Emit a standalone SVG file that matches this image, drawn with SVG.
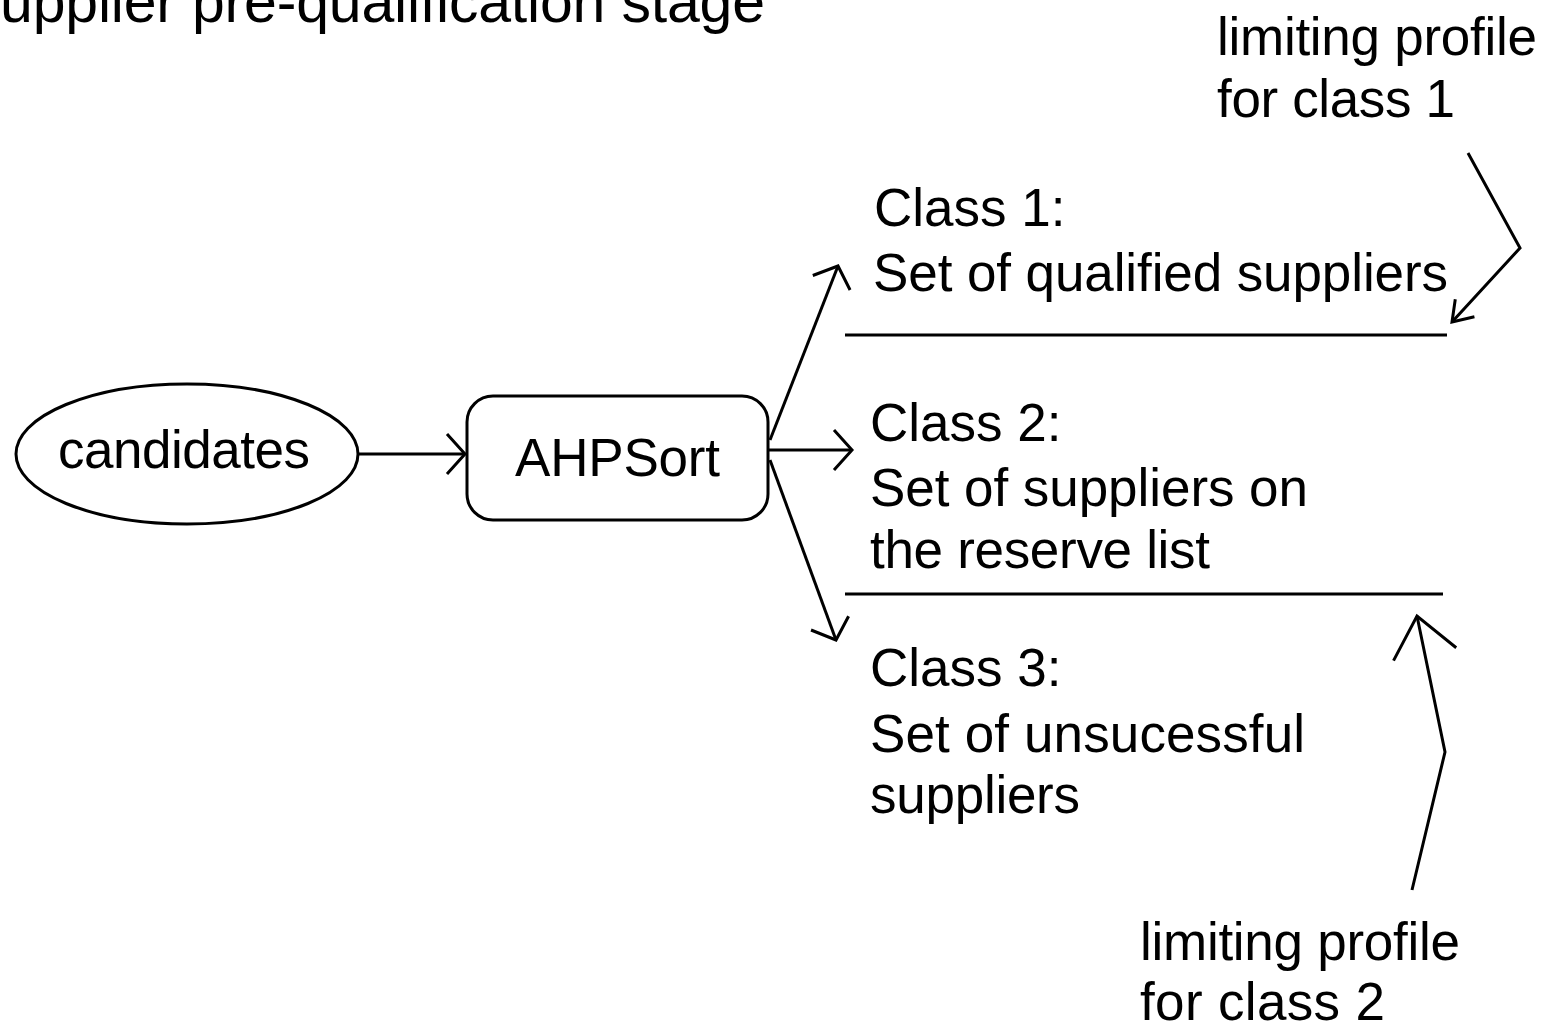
<svg xmlns="http://www.w3.org/2000/svg" width="1548" height="1029" viewBox="0 0 1548 1029">
  <style>
    .t { font-family: "Liberation Sans", Arial, sans-serif; font-size: 53px; fill: #000; }
    .title { font-family: "Liberation Sans", Arial, sans-serif; font-size: 59px; fill: #000; }
    .shape { fill: #fff; stroke: #000; stroke-width: 3; }
    .edge { fill: none; stroke: #000; stroke-width: 3; }
    .rule { fill: none; stroke: #000; stroke-width: 3; }
  </style>
  <defs>
    <marker id="head" markerUnits="userSpaceOnUse" viewBox="-25 -25 30 50" refX="0" refY="0" markerWidth="30" markerHeight="50" orient="auto" overflow="visible">
      <path d="M -18 -20 L 0 0 L -18 20" fill="none" stroke="#000" stroke-width="3"/>
    </marker>
    <marker id="headS" markerUnits="userSpaceOnUse" viewBox="-25 -25 30 50" refX="0" refY="0" markerWidth="30" markerHeight="50" orient="auto" overflow="visible">
      <path d="M -19 -13 L 0 0 L -19 13" fill="none" stroke="#000" stroke-width="3"/>
    </marker>
    <marker id="headL" markerUnits="userSpaceOnUse" viewBox="-45 -40 50 80" refX="0" refY="0" markerWidth="50" markerHeight="80" orient="auto" overflow="visible">
      <path d="M -39 -32 L 0 0 L -39 32" fill="none" stroke="#000" stroke-width="3"/>
    </marker>
  </defs>

  <rect width="1548" height="1029" fill="#fff"/>

  <!-- heading runs off the top-left edge -->
  <text class="title" x="0" y="22" textLength="765">upplier pre-qualification stage</text>

  <g id="connectors">
    <path class="edge" d="M 358 454 L 465 454" marker-end="url(#head)"/>
    <path class="edge" d="M 770 440 L 838 266" marker-end="url(#head)"/>
    <path class="edge" d="M 768 450 L 852 450" marker-end="url(#head)"/>
    <path class="edge" d="M 770 460 L 836 640" marker-end="url(#head)"/>
    <path class="edge" d="M 1468 153 L 1520 248 L 1452 322" marker-end="url(#headS)"/>
    <path class="edge" d="M 1412 890 L 1445 752 L 1417 616" marker-end="url(#headL)"/>
  </g>

  <g id="candidates">
    <ellipse class="shape" cx="187" cy="454" rx="171" ry="70"/>
    <text class="t" x="58" y="468" textLength="252">candidates</text>
  </g>

  <g id="ahpsort">
    <rect class="shape" x="467" y="396" width="301" height="124" rx="26" ry="26"/>
    <text class="t" x="515" y="476" textLength="205">AHPSort</text>
  </g>

  <g id="class1">
    <text class="t" x="874" y="226">Class 1:</text>
    <text class="t" x="873" y="291" textLength="575">Set of qualified suppliers</text>
  </g>

  <g id="profile1-rule">
    <line class="rule" x1="845" y1="335" x2="1447" y2="335"/>
  </g>

  <g id="class2">
    <text class="t" x="870" y="441">Class 2:</text>
    <text class="t" x="870" y="506" textLength="438">Set of suppliers on</text>
    <text class="t" x="870" y="568" textLength="340">the reserve list</text>
  </g>

  <g id="profile2-rule">
    <line class="rule" x1="845" y1="594" x2="1443" y2="594"/>
  </g>

  <g id="class3">
    <text class="t" x="870" y="686">Class 3:</text>
    <text class="t" x="870" y="752" textLength="435">Set of unsucessful</text>
    <text class="t" x="870" y="813" textLength="210">suppliers</text>
  </g>

  <g id="label-profile1">
    <text class="t" x="1217" y="55" textLength="320">limiting profile</text>
    <text class="t" x="1217" y="117" textLength="238">for class 1</text>
  </g>

  <g id="label-profile2">
    <text class="t" x="1140" y="960" textLength="320">limiting profile</text>
    <text class="t" x="1140" y="1020" textLength="245">for class 2</text>
  </g>
</svg>
